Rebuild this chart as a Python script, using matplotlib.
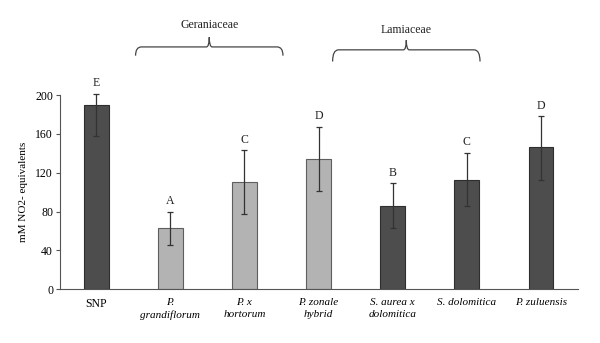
import numpy as np
import matplotlib.pyplot as plt
from matplotlib.path import Path
from matplotlib.patches import PathPatch

plt.rcParams['font.family'] = ['Liberation Serif', 'DejaVu Serif']

categories = ["SNP", "P.\ngrandiflorum", "P. x\nhortorum", "P. zonale\nhybrid",
              "S. aurea x\ndolomitica", "S. dolomitica", "P. zuluensis"]
values = [189.5, 63, 110, 134.5, 86, 113, 146]
err_low = [32, 17, 33, 33, 23, 27, 33]
err_high = [12, 17, 33, 33, 23, 27, 32]
letters = ["E", "A", "C", "D", "B", "C", "D"]
colors = ["#4d4d4d", "#b3b3b3", "#b3b3b3", "#b3b3b3", "#4d4d4d", "#4d4d4d", "#4d4d4d"]
edges = ["#2e2e2e", "#5e5e5e", "#5e5e5e", "#5e5e5e", "#2e2e2e", "#2e2e2e", "#2e2e2e"]

fig = plt.figure(figsize=(6, 3.43), dpi=100)
ax = fig.add_axes([0.1, 0.1566, 0.863, 0.5664])

x = np.arange(len(categories))
ax.bar(x, values, width=0.33, color=colors, edgecolor=edges, linewidth=0.8, zorder=2)
ax.errorbar(x, values, yerr=[err_low, err_high], fmt="none", ecolor="#333333",
            elinewidth=0.9, capsize=2.5, capthick=0.9, zorder=3, clip_on=False)
for xi, v, e, l in zip(x, values, err_high, letters):
    ax.text(xi, v + e + 5, l, ha="center", va="bottom", fontsize=8.5, color="#222222")

ax.set_xlim(-0.49, 6.5)
ax.set_ylim(0, 200)
ax.set_yticks([0, 40, 80, 120, 160, 200])
ax.set_xticks(x)
ax.set_xticklabels(categories, fontsize=8.5, linespacing=1.45)
for i, lab in enumerate(ax.get_xticklabels()):
    if i > 0:
        lab.set_style("italic")
        lab.set_fontsize(8)
ax.tick_params(axis="x", length=0, pad=6)
ax.tick_params(axis="y", length=3, width=0.8, labelsize=8.5, color="#555555", pad=2)
for s in ["top", "right"]:
    ax.spines[s].set_visible(False)
for s in ["left", "bottom"]:
    ax.spines[s].set_color("#555555")
    ax.spines[s].set_linewidth(0.8)
ax.set_ylabel("mM NO2- equivalents", fontsize=8, labelpad=5)


def brace(x0, x1, y, drop, tip, label, ly):
    xm = (x0 + x1) / 2
    r = 0.04
    verts = [(x0, y - drop), (x0, y), (x0 + r * 2, y),
             (xm - r, y), (xm, y), (xm, y + tip),
             (xm, y), (xm + r, y),
             (x1 - r * 2, y), (x1, y), (x1, y - drop)]
    codes = [Path.MOVETO, Path.CURVE3, Path.CURVE3,
             Path.LINETO, Path.CURVE3, Path.CURVE3,
             Path.CURVE3, Path.CURVE3,
             Path.LINETO, Path.CURVE3, Path.CURVE3]
    ax.add_patch(PathPatch(Path(verts, codes), fill=False, edgecolor="#444444",
                           linewidth=0.9, clip_on=False))
    ax.text(xm, ly, label, ha="center", va="center", fontsize=8.5, color="#222222")


brace(0.53, 2.52, 249.5, 9, 10, "Geraniaceae", 272)
brace(3.19, 5.18, 246.5, 12, 10, "Lamiaceae", 267)

fig.savefig("out.png", dpi=100)
